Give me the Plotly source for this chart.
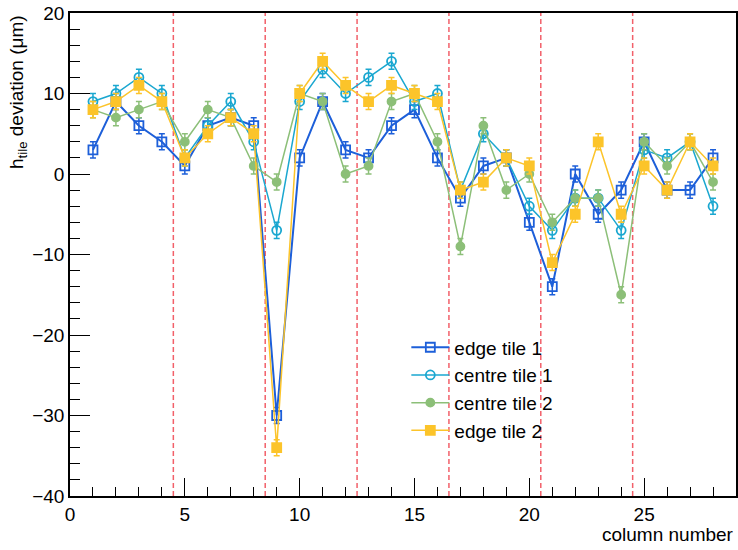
import plotly.graph_objects as go

columns = list(range(1, 29))
edge_tile_1 = [3, 9, 6, 4, 1, 6, 7, 6, -30, 2, 9, 3, 2, 6, 8, 2, -3, 1, 2, -6, -14, 0, -5, -2, 4, -2, -2, 2]
centre_tile_1 = [9, 10, 12, 10, 2, 6, 9, 4, -7, 9, 13, 10, 12, 14, 9, 10, -2, 5, 2, -4, -7, -3, -3, -7, 3, 2, 4, -4]
centre_tile_2 = [8, 7, 8, 9, 4, 8, 7, 1, -1, 10, 9, 0, 1, 9, 10, 4, -9, 6, -2, 0, -6, -3, -3, -15, 4, 1, 4, -1]
edge_tile_2 = [8, 9, 11, 9, 2, 5, 7, 5, -34, 10, 14, 11, 9, 11, 10, 9, -2, -1, 2, 1, -11, -5, 4, -5, 1, -2, 4, 1]
errors = [1.0] * 28
boundaries = [4.5, 8.5, 12.5, 16.5, 20.5, 24.5]

series = [
    ("edge tile 1", edge_tile_1, "#1d5fd9", "square-open", 9, 2.0),
    ("centre tile 1", centre_tile_1, "#1aa7d0", "circle-open", 9, 1.5),
    ("centre tile 2", centre_tile_2, "#8cbf78", "circle", 8, 1.5),
    ("edge tile 2", edge_tile_2, "#fcc42a", "square", 9, 1.5),
]

FONT = "Liberation Sans, Arial, Helvetica, sans-serif"
fig = go.Figure()
for name, vals, col, sym, size, lw in series:
    fig.add_trace(go.Scatter(
        x=columns, y=vals, name=name, mode="lines+markers",
        line=dict(color=col, width=lw),
        marker=dict(symbol=sym, size=size, color=col, line=dict(color=col, width=1.8)),
        error_y=dict(type="data", array=errors, visible=True, color=col, thickness=1.5, width=3),
    ))

for b in boundaries:
    fig.add_vline(x=b, line=dict(color="#f2606a", width=1.5, dash="5px,3px"), layer="below")

fig.update_layout(
    width=738, height=550,
    margin=dict(l=70, r=2, t=13, b=54, autoexpand=False),
    plot_bgcolor="white", paper_bgcolor="white",
    font=dict(family=FONT, size=19, color="black"),
    showlegend=True,
    legend=dict(x=0.505, y=0.347, xanchor="left", yanchor="top",
                bgcolor="rgba(0,0,0,0)", font=dict(size=19), tracegroupgap=0,
                itemwidth=38),
    xaxis=dict(range=[0, 29], tickmode="linear", tick0=0, dtick=5, automargin=False,
               ticks="inside", ticklen=18, tickwidth=1, tickcolor="black",
               minor=dict(dtick=1, ticks="inside", ticklen=9, tickcolor="black"),
               showline=True, linecolor="black", linewidth=1.5, mirror=True,
               showgrid=False, zeroline=False, tickfont=dict(size=19)),
    yaxis=dict(range=[-40, 20], tickmode="linear", tick0=-40, dtick=10, automargin=False,
               ticks="inside", ticklen=20, tickwidth=1, tickcolor="black",
               minor=dict(dtick=2, ticks="inside", ticklen=10, tickcolor="black"),
               showline=True, linecolor="black", linewidth=1.5, mirror=True,
               showgrid=False, zeroline=False, tickfont=dict(size=19),
               ticklabelstandoff=0),
    annotations=[
        dict(text="h<sub>tile</sub> deviation (μm)", textangle=-90, xref="paper", yref="paper",
             x=-0.078, y=1.0, xanchor="center", yanchor="top", showarrow=False,
             font=dict(size=19)),
        dict(text="column number", xref="paper", yref="paper", x=1.0, y=-0.08,
             xanchor="right", yanchor="middle", showarrow=False, font=dict(size=19)),
    ],
)

fig.write_html("out.html", post_script="document.body.style.margin='0';",
               config={"displayModeBar": False})
